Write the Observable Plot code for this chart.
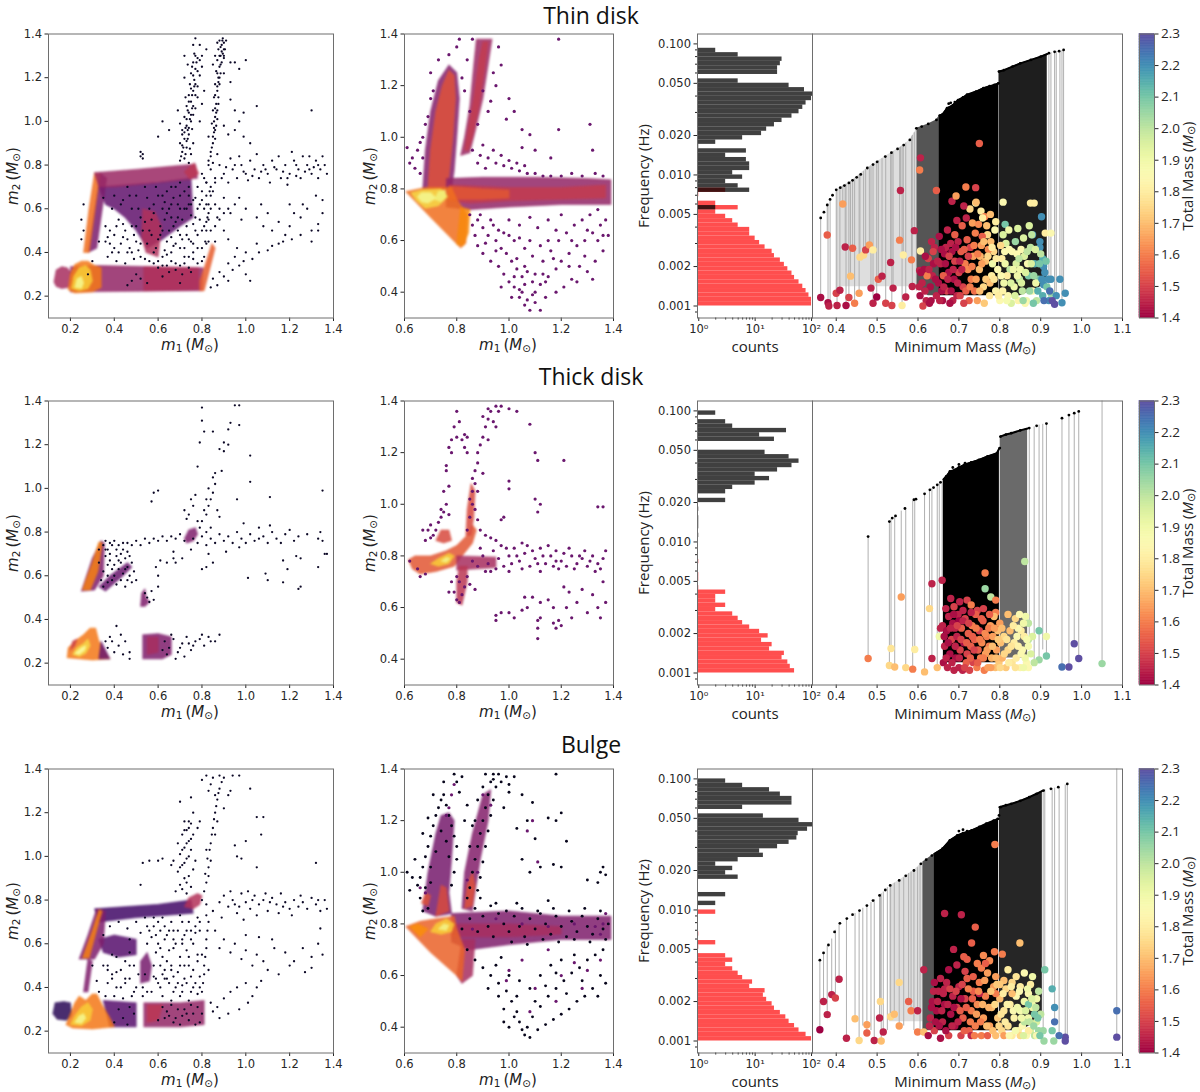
<!DOCTYPE html>
<html><head><meta charset="utf-8">
<script src="https://cdn.jsdelivr.net/npm/d3@7"></script>
<script src="https://cdn.jsdelivr.net/npm/@observablehq/plot@0.6"></script>
<style>
body{margin:0;background:#fff;}
#root{position:relative;width:1200px;height:1092px;overflow:hidden;background:#fff;}
.lab{position:absolute;white-space:nowrap;transform:translate(-50%,-50%);font-size:15px;color:#222;line-height:1;}
.mm{font-family:"DejaVu Sans";}
.os{font-family:"Open Sans";}
.rot{transform:translate(-50%,-50%) rotate(-90deg);}
.title{position:absolute;font-family:"Open Sans";font-size:23px;line-height:1;transform:translate(-50%,0);color:#111;white-space:nowrap;}
sub{font-size:70%;vertical-align:-0.25em;line-height:0;}
</style></head><body><div id="root"></div><script>
// ---------------- data ----------------
const titles = ["Thin disk", "Thick disk", "Bulge"];
const scatterTicksA = [0.2,0.4,0.6,0.8,1.0,1.2,1.4];
const scatterTicksBx = [0.6,0.8,1.0,1.2,1.4];
const scatterTicksBy = [0.4,0.6,0.8,1.0,1.2,1.4];
const massTicks = [0.4,0.5,0.6,0.7,0.8,0.9,1.0,1.1];
const freqTicks = [0.001,0.002,0.005,0.01,0.02,0.05,0.1];
const freqMinor = [0.0009,0.003,0.004,0.006,0.007,0.008,0.009,0.03,0.04,0.06,0.07,0.08,0.09];
const countTicks = [1,10,100];
const countMinor = [2,3,4,5,6,7,8,9,20,30,40,50,60,70,80,90];
const totalMassTicks = [1.4,1.5,1.6,1.7,1.8,1.9,2.0,2.1,2.2,2.3];
const histLogStart = -3, histLogStep = 1/30;

// ---- Thin disk: m1-m2 density regions [density, polygon] and sparse points
const thinA_polys = [
 [0.28,[[0.33,0.70],[0.6,0.72],[0.75,0.74],[0.76,0.56],[0.70,0.52],[0.62,0.46],[0.55,0.42],[0.5,0.5],[0.45,0.56],[0.4,0.6],[0.36,0.62]]],
 [0.34,[[0.28,0.40],[0.32,0.42],[0.365,0.74],[0.335,0.765]]],
 [0.68,[[0.26,0.40],[0.285,0.40],[0.335,0.76],[0.31,0.765],[0.285,0.6]]],
 [0.42,[[0.31,0.765],[0.5,0.78],[0.77,0.805],[0.78,0.74],[0.6,0.72],[0.4,0.70],[0.33,0.70]]],
 [0.50,[[0.72,0.77],[0.765,0.81],[0.785,0.76],[0.745,0.735]]],
 [0.47,[[0.525,0.47],[0.545,0.40],[0.6,0.38],[0.615,0.52],[0.585,0.585],[0.53,0.6]]],
 [0.40,[[0.2,0.22],[0.8,0.225],[0.805,0.33],[0.33,0.34],[0.2,0.335]]],
 [0.47,[[0.535,0.225],[0.785,0.23],[0.785,0.33],[0.535,0.335]]],
 [0.45,[[0.125,0.265],[0.135,0.32],[0.16,0.335],[0.185,0.33],[0.2,0.31],[0.205,0.26],[0.19,0.24],[0.16,0.235],[0.135,0.245]]],
 [0.64,[[0.79,0.225],[0.81,0.225],[0.86,0.42],[0.845,0.44],[0.82,0.36],[0.79,0.27]]],
 [0.70,[[0.19,0.23],[0.2,0.3],[0.22,0.345],[0.25,0.36],[0.28,0.36],[0.31,0.34],[0.34,0.33],[0.34,0.24],[0.3,0.22],[0.22,0.215]]],
 [0.88,[[0.205,0.235],[0.215,0.29],[0.24,0.33],[0.27,0.34],[0.29,0.32],[0.3,0.27],[0.28,0.235],[0.24,0.225]]],
 [0.98,[[0.22,0.24],[0.23,0.28],[0.25,0.29],[0.26,0.26],[0.25,0.235]]]
];
const thinA_dots = [
 [0.70,0.82],[0.72,0.83],[0.74,0.81],[0.71,0.86],[0.73,0.88],[0.75,0.85],[0.70,0.9],[0.72,0.92],[0.74,0.94],[0.76,0.9],[0.71,0.96],[0.73,0.98],[0.75,1.0],[0.72,1.02],[0.74,1.04],[0.76,1.03],[0.73,1.07],[0.75,1.09],[0.77,1.06],[0.74,1.12],[0.76,1.14],[0.78,1.11],[0.745,1.17],[0.765,1.19],[0.78,1.16],[0.75,1.22],[0.77,1.24],[0.79,1.21],[0.76,1.27],[0.78,1.29],[0.765,1.31],[0.69,1.05],[0.7,0.99],[0.79,1.0],[0.8,1.08],[0.81,1.14],[0.735,1.26],[0.72,1.2],[0.8,1.25],[0.71,0.94],[0.725,0.85],[0.745,0.875],[0.735,0.96],[0.755,0.965],[0.725,1.11],[0.77,1.12],[0.755,1.06],[0.79,1.28],[0.62,1.0],[0.65,0.96],[0.6,0.93],[0.53,0.85],[0.53,0.83],[0.8,1.3],[0.72,1.3],[0.76,1.35],
 [0.705,0.84],[0.715,0.88],[0.735,0.92],[0.725,0.97],[0.745,1.01],[0.735,1.05],[0.755,1.12],[0.765,1.16],[0.755,1.25],[0.775,1.27],
 [0.71,0.89],[0.73,0.91],[0.72,0.95],[0.74,0.97],[0.73,1.01],[0.75,1.03],[0.74,1.09],[0.76,1.07],[0.75,1.15],[0.77,1.17],[0.76,1.21],[0.78,1.23],[0.77,1.3],
 [0.83,0.82],[0.84,0.86],[0.85,0.9],[0.83,0.93],[0.855,0.95],[0.845,0.99],[0.86,1.02],[0.85,1.05],[0.865,1.08],[0.855,1.11],[0.87,1.14],[0.86,1.17],[0.875,1.2],[0.865,1.23],[0.88,1.25],[0.87,1.28],[0.885,1.3],[0.875,1.33],[0.89,1.35],[0.88,1.37],[0.895,1.38],[0.9,1.36],[0.905,1.33],[0.895,1.31],[0.89,1.27],[0.885,1.22],[0.88,1.17],[0.875,1.11],[0.87,1.05],[0.865,0.98],[0.86,0.92],[0.9,1.29],[0.91,1.37],[0.87,1.36],[0.86,1.3],[0.85,1.26],[0.9,1.22],[0.93,1.1],[0.95,1.05],[0.97,1.0],[0.95,0.96],[0.99,0.93],[1.02,0.9],[0.9,0.98],[0.92,0.94],
 [0.845,0.88],[0.855,0.97],[0.865,1.04],[0.86,1.12],[0.875,1.18],[0.87,1.22],[0.88,1.3],[0.885,1.34],[0.893,1.37],[0.9,1.33],
 [0.84,0.84],[0.85,0.93],[0.86,0.96],[0.855,1.0],[0.87,1.01],[0.86,1.06],[0.875,1.08],[0.87,1.16],[0.88,1.2],[0.885,1.26],[0.89,1.32],[0.9,1.3],
 [0.79,1.35],[0.82,1.33],[0.95,1.27],[1.0,1.28],[0.97,1.24],[0.93,1.18],[1.05,1.07],[0.99,1.04],[1.3,1.05],[0.93,1.27],[0.77,1.38],
 [0.8,0.76],[0.82,0.72],[0.84,0.78],[0.86,0.74],[0.88,0.8],[0.9,0.76],[0.92,0.72],[0.94,0.78],[0.96,0.74],[0.98,0.8],[1.0,0.76],[1.02,0.82],[1.04,0.78],[1.06,0.74],[1.08,0.8],[1.1,0.76],[1.12,0.82],[1.14,0.78],[1.16,0.74],[1.18,0.8],[1.2,0.76],[1.22,0.82],[1.24,0.78],[1.26,0.84],[1.28,0.8],[1.3,0.76],[1.32,0.82],[1.34,0.78],[1.36,0.8],[1.37,0.76],[1.15,0.84],[1.05,0.85],[0.97,0.84],[1.25,0.74],[1.33,0.74],[1.11,0.72],[1.19,0.71],[1.29,0.84],[1.21,0.86],[0.93,0.83],[0.87,0.85],[1.01,0.73],[1.27,0.77],[1.23,0.75],[1.17,0.77],[1.13,0.79],[1.07,0.77],[0.99,0.77],[0.91,0.79],[0.85,0.81],[1.35,0.84],[1.31,0.79],
 [0.81,0.74],[0.83,0.8],[0.89,0.74],[0.95,0.8],[1.03,0.75],[1.09,0.78],[1.19,0.74],[1.23,0.8],[1.29,0.78],[1.33,0.8],
 [0.85,0.68],[0.9,0.65],[0.95,0.62],[1.0,0.6],[1.05,0.56],[1.1,0.58],[1.15,0.54],[1.2,0.52],[1.25,0.56],[1.3,0.5],[1.33,0.53],[1.35,0.58],[1.28,0.6],[1.22,0.58],[1.18,0.48],[1.12,0.5],[1.08,0.52],[0.98,0.55],[0.93,0.58],[0.88,0.6],[1.3,0.45],[1.32,0.66],[1.35,0.64],[1.26,0.62],[1.2,0.62],[1.07,0.62],[0.97,0.65],[1.12,0.43],[1.05,0.44],[1.0,0.4],[0.95,0.38],[0.92,0.35],[0.88,0.31],[0.85,0.28],[0.9,0.29],[0.97,0.34],[1.03,0.37],[1.1,0.41],[1.17,0.45],[1.25,0.48],[1.33,0.5],[0.87,0.25],[0.84,0.24],[0.92,0.27],[1.0,0.3],[0.94,0.32],[0.99,0.36],[1.06,0.4],[1.15,0.44],[1.21,0.46],[1.02,0.27],[0.96,0.42],[0.86,0.45],[0.9,0.5],[0.83,0.55],[0.82,0.62],[0.87,0.56],[0.92,0.46],
 [0.36,0.45],[0.38,0.5],[0.4,0.42],[0.42,0.55],[0.44,0.47],[0.46,0.4],[0.48,0.52],[0.5,0.45],[0.37,0.38],[0.41,0.36],[0.45,0.35],[0.49,0.37],[0.43,0.62],[0.47,0.66],[0.51,0.6],[0.55,0.65],[0.59,0.7],[0.63,0.55],[0.65,0.6],[0.67,0.65],[0.69,0.5],[0.71,0.55],[0.73,0.6],[0.75,0.45],[0.77,0.5],[0.79,0.55],[0.81,0.6],[0.83,0.45],[0.64,0.45],[0.66,0.4],[0.68,0.35],[0.7,0.42],[0.72,0.38],[0.74,0.33],[0.76,0.4],[0.78,0.35],[0.62,0.38],[0.6,0.33],[0.65,0.31],[0.71,0.3],[0.56,0.36],[0.52,0.38],[0.39,0.6],[0.35,0.65],[0.8,0.68],[0.77,0.65],[0.74,0.7],[0.7,0.72],[0.66,0.7],[0.62,0.66],[0.58,0.62],[0.82,0.72],[0.84,0.66],[0.8,0.42],[0.73,0.48],[0.67,0.52],[0.61,0.48],[0.69,0.62],[0.75,0.57],[0.63,0.63],[0.57,0.55],[0.33,0.45],[0.3,0.36],[0.28,0.3],[0.26,0.62],[0.25,0.55],[0.26,0.5],[0.25,0.46],[0.52,0.86],[0.52,0.84],
 [0.37,0.47],[0.39,0.4],[0.41,0.52],[0.43,0.44],[0.45,0.5],[0.47,0.42],[0.49,0.48],[0.51,0.41],[0.53,0.5],[0.55,0.44],[0.57,0.48],[0.59,0.42],[0.61,0.52],[0.63,0.41],[0.65,0.5],[0.67,0.43],[0.69,0.56],[0.71,0.46],[0.73,0.52],[0.75,0.62],[0.77,0.56],[0.79,0.62],[0.81,0.52],[0.83,0.58],[0.6,0.36],[0.64,0.34],[0.68,0.32],[0.72,0.35],[0.76,0.37],[0.8,0.36],[0.66,0.62],[0.7,0.66],[0.74,0.66],[0.78,0.7],[0.82,0.66],[0.72,0.6],[0.76,0.53],[0.64,0.58],[0.68,0.54],[0.62,0.6],
 [0.36,0.52],[0.38,0.44],[0.4,0.48],[0.42,0.4],[0.44,0.53],[0.46,0.46],[0.48,0.4],[0.5,0.52],[0.52,0.44],[0.54,0.54],[0.56,0.5],[0.58,0.4],[0.6,0.46],[0.62,0.5],[0.64,0.39],[0.66,0.47],[0.68,0.44],[0.7,0.48],[0.72,0.42],[0.74,0.46],[0.76,0.44],[0.78,0.48],[0.8,0.5],[0.82,0.54],[0.84,0.6],[0.86,0.62],[0.78,0.6],[0.76,0.64],[0.72,0.68],[0.68,0.7],[0.64,0.68],[0.6,0.66],[0.56,0.6],[0.52,0.56],[0.48,0.6],[0.44,0.64],[0.4,0.66],[0.46,0.7],[0.5,0.66],[0.54,0.7],[0.58,0.58],[0.66,0.56],[0.7,0.6],[0.74,0.62],[0.8,0.64],[0.84,0.7],[0.86,0.72],[0.78,0.42],[0.74,0.38],[0.7,0.34],[0.66,0.36],[0.62,0.34],[0.58,0.35],[0.54,0.37],[0.82,0.44],[0.84,0.5],[0.86,0.52],[0.88,0.55],[0.9,0.58],[0.92,0.6],
 [0.81,0.38],[0.815,0.45],[0.82,0.5],[0.825,0.56],[0.83,0.62],[0.835,0.68],[0.48,0.27],[0.5,0.3],[0.46,0.25],[0.52,0.28],[0.55,0.26],[0.62,0.29],[0.7,0.26],[0.75,0.31]
];
const thinB_polys = [
 [0.36,[[0.67,0.80],[0.68,0.95],[0.70,1.10],[0.73,1.22],[0.77,1.28],[0.80,1.25],[0.81,1.15],[0.80,1.00],[0.79,0.87],[0.78,0.80]]],
 [0.60,[[0.69,0.80],[0.70,0.95],[0.72,1.10],[0.745,1.20],[0.77,1.26],[0.79,1.24],[0.795,1.15],[0.785,1.0],[0.77,0.85],[0.76,0.80]]],
 [0.42,[[0.815,0.93],[0.83,1.0],[0.85,1.12],[0.865,1.28],[0.875,1.38],[0.935,1.38],[0.92,1.28],[0.9,1.15],[0.87,1.02],[0.85,0.94]]],
 [0.52,[[0.83,0.95],[0.845,1.04],[0.865,1.15],[0.885,1.3],[0.9,1.37],[0.92,1.37],[0.905,1.25],[0.885,1.12],[0.86,1.0],[0.845,0.95]]],
 [0.40,[[0.76,0.73],[0.76,0.84],[0.9,0.845],[1.1,0.845],[1.3,0.84],[1.39,0.835],[1.39,0.74],[1.2,0.74],[1.0,0.73],[0.85,0.72]]],
 [0.52,[[0.77,0.755],[0.77,0.815],[1.0,0.805],[1.2,0.805],[1.37,0.815],[1.37,0.765],[1.2,0.76],[1.0,0.755],[0.85,0.745]]],
 [0.62,[[0.77,0.76],[0.77,0.81],[0.9,0.8],[1.0,0.795],[1.0,0.765],[0.9,0.76]]],
 [0.68,[[0.605,0.79],[0.68,0.805],[0.78,0.805],[0.80,0.76],[0.84,0.70],[0.835,0.59],[0.815,0.572],[0.70,0.69]]],
 [0.74,[[0.80,0.585],[0.825,0.58],[0.845,0.63],[0.85,0.72],[0.815,0.73]]],
 [0.90,[[0.625,0.785],[0.67,0.797],[0.74,0.8],[0.765,0.77],[0.73,0.735],[0.68,0.725],[0.645,0.755]]],
 [0.98,[[0.65,0.77],[0.665,0.785],[0.70,0.785],[0.72,0.765],[0.69,0.745],[0.665,0.75]]],
 [0.96,[[0.715,0.76],[0.73,0.79],[0.755,0.795],[0.76,0.77],[0.74,0.75]]]
];
const thinB_dots = [
 [0.85,0.7],[0.88,0.68],[0.9,0.65],[0.92,0.62],[0.95,0.6],[0.97,0.57],[0.99,0.55],[1.01,0.52],[1.03,0.49],[1.05,0.46],[1.06,0.43],[1.05,0.4],[1.04,0.38],[1.07,0.37],[1.1,0.4],[1.12,0.43],[1.15,0.46],[1.18,0.49],[1.2,0.52],[1.23,0.55],[1.26,0.58],[1.29,0.6],[1.32,0.63],[1.35,0.66],[1.37,0.68],[1.36,0.56],[1.33,0.52],[1.3,0.48],[1.27,0.5],[1.24,0.45],[1.21,0.42],[1.18,0.4],[1.14,0.38],[1.1,0.36],[1.08,0.33],[1.12,0.33],[0.93,0.52],[0.96,0.5],[0.98,0.47],[1.0,0.44],[1.02,0.42],[0.9,0.55],[0.88,0.58],[0.87,0.62],[0.94,0.66],[0.98,0.63],[1.02,0.6],[1.06,0.57],[1.09,0.54],[1.13,0.52],[1.16,0.56],[1.19,0.6],[1.22,0.63],[1.25,0.66],[1.28,0.68],[1.31,0.7],[1.34,0.72],[1.11,0.65],[1.15,0.68],[1.2,0.7],[1.0,0.68],[1.04,0.66],[1.08,0.69],[0.95,0.56],[1.07,0.48],[1.13,0.47],[1.17,0.53],[1.23,0.5],[1.29,0.54],[1.34,0.6],[1.38,0.62],[1.03,0.53],[0.97,0.42],[1.01,0.38],[1.09,0.44],[1.15,0.6],[1.26,0.44],[1.32,0.45],[0.86,0.66],[0.91,0.59],
 [0.89,0.7],[0.93,0.68],[0.96,0.64],[1.0,0.62],[1.04,0.61],[1.08,0.6],[1.12,0.58],[1.18,0.64],[1.24,0.6],[1.3,0.64],[1.36,0.62],[1.02,0.46],[1.06,0.5],[1.1,0.47],[1.14,0.44],[1.04,0.41],[1.06,0.35],[1.09,0.39],
 [0.86,0.95],[0.89,0.93],[0.92,0.92],[0.95,0.9],[0.98,0.89],[1.01,0.88],[1.04,0.87],[1.07,0.86],[1.1,0.86],[1.13,0.85],[1.16,0.85],[1.2,0.85],[0.9,0.97],[0.94,0.95],[0.97,0.93],[1.0,0.91],[1.03,0.9],[1.06,0.89],[0.88,0.9],[0.91,0.88],[1.24,0.86],[1.28,0.85],[1.33,0.86],[1.36,0.85],
 [0.85,1.1],[0.88,1.05],[0.92,1.1],[0.95,1.2],[0.97,1.28],[1.0,1.15],[1.02,1.1],[1.05,1.03],[1.08,1.01],[1.19,1.03],[1.31,1.05],[1.32,0.95],[1.19,1.38],[0.94,1.25],[0.96,1.35],[0.81,1.38],[0.8,1.35],[0.77,1.32],[0.73,1.3],[0.7,1.25],[0.84,1.3],[0.82,1.23],[0.83,1.18],[0.86,1.38],[0.9,1.18],[0.93,1.14],[0.99,1.07],[1.05,0.96],[1.1,0.95],[1.16,0.92],
 [0.61,0.96],[0.62,0.9],[0.63,0.92],[0.65,0.95],[0.66,0.98],[0.67,1.0],[0.68,1.05],[0.69,1.08],[0.7,1.15],[0.71,1.18],[0.64,0.88],[0.66,0.86],[0.67,0.92]
];
// Thin disk histogram counts per log-frequency bin (bottom to top)
const thinHistRed = [100,100,90,80,70,60,50,45,38,33,28,22,20,15,12,10,8,8,5,4,3,2,5,2,0,1,3,0,0,0,0,0,0,0,0,0,0,0,0,0,0,0,0,0,0,0,0,0,0,0,0,0,0,0,0,0,0,0,0,0];
const thinHistDark = [0,0,0,0,0,0,0,0,0,0,0,0,0,0,0,0,0,0,0,0,0,0,2,0,0,0,8,5,3,6,4,8,8,7,3,7,1,2,6,13,16,22,30,45,60,70,80,100,105,75,40,5,0,25,25,28,30,5,2,0];
// Thin disk: minimum mass vs frequency
const thinEnvelope = [[0.362,0.0047],[0.37,0.0052],[0.378,0.0059],[0.385,0.0065],[0.391,0.007],[0.4,0.0077],[0.41,0.008],[0.42,0.0083],[0.431,0.0087],[0.44,0.0091],[0.45,0.0096],[0.46,0.0101],[0.476,0.0113],[0.49,0.012],[0.5,0.0126],[0.52,0.0138],[0.535,0.0148],[0.55,0.0158],[0.565,0.0169],[0.58,0.0185],[0.596,0.0227],[0.609,0.0234],[0.625,0.0245],[0.645,0.0263],[0.66,0.029],[0.671,0.0323],[0.685,0.034],[0.698,0.0373],[0.71,0.039],[0.72,0.041],[0.742,0.0433],[0.76,0.046],[0.775,0.0475],[0.787,0.0487],[0.796,0.05],[0.798,0.0615],[0.81,0.063],[0.831,0.0671],[0.85,0.071],[0.876,0.0755],[0.9,0.08],[0.92,0.0849],[0.934,0.087],[0.945,0.088],[0.956,0.09],[0.675,0.035],[0.68,0.0355],[0.69,0.036]];
const thinStems = [[0.362,0.0047,0.00116],[0.378,0.0059,0.00348],[0.38,0.006,0.00106],[0.385,0.0065,0.001],[0.4,0.0077,0.00125],[0.402,0.0077,0.00101],[0.409,0.008,0.00132],[0.416,0.0082,0.006],[0.422,0.0084,0.00282],[0.424,0.0085,0.00101],[0.431,0.0087,0.00116],[0.435,0.0089,0.00169],[0.44,0.0091,0.00276],[0.445,0.0093,0.00105],[0.456,0.0099,0.00125],[0.458,0.01,0.00236],[0.467,0.0106,0.00245],[0.472,0.011,0.00268],[0.481,0.0115,0.00292],[0.485,0.0117,0.00137],[0.49,0.012,0.00105],[0.499,0.0125,0.00117],[0.503,0.0128,0.0016],[0.512,0.0133,0.00169],[0.521,0.0139,0.00105],[0.533,0.0147,0.00215],[0.536,0.0149,0.00101],[0.539,0.0151,0.00137],[0.555,0.0161,0.00318],[0.557,0.0163,0.0076],[0.561,0.0166,0.00101],[0.564,0.0168,0.00245],[0.57,0.0175,0.00117],[0.584,0.0195,0.00225],[0.586,0.02,0.00141],[0.591,0.021,0.00376],[0.596,0.0227,0.0013],[0.92,0.0849,0.0011],[0.925,0.086,0.0016],[0.934,0.087,0.00103],[0.938,0.0875,0.0012],[0.947,0.088,0.0016],[0.952,0.089,0.00106],[0.956,0.09,0.00125]];
const thinLight = [[0.405,0.0079,0.0014],[0.431,0.0087,0.0014],[0.476,0.0113,0.0014],[0.52,0.0138,0.0014],[0.565,0.0169,0.0014],[0.58,0.0185,0.0014],[0.598,0.0227,0.0014]];
const thinGrey = [[0.598,0.0228,0.0014],[0.609,0.0234,0.0013],[0.625,0.0245,0.0012],[0.645,0.0263,0.0012],[0.653,0.0285,0.0012]];
const thinCore = [[0.652,0.0285,0.0012],[0.66,0.029,0.0012],[0.671,0.0323,0.0012],[0.685,0.034,0.0012],[0.698,0.0373,0.0012],[0.71,0.039,0.0012],[0.72,0.041,0.0012],[0.742,0.0433,0.0012],[0.76,0.046,0.0012],[0.775,0.0475,0.0012],[0.787,0.0487,0.0012],[0.797,0.05,0.0012]];
const thinShade = [[0.798,0.0615,0.0012],[0.81,0.063,0.0012],[0.831,0.0671,0.0012],[0.85,0.071,0.0012],[0.876,0.0755,0.0013],[0.9,0.08,0.0014],[0.916,0.0838,0.0016]];
const thinMassDots = [
 [0.362,0.00116,1.42],[0.378,0.00348,1.55],[0.38,0.00106,1.42],[0.382,0.001,1.45],[0.4,0.00125,1.5],[0.402,0.00101,1.45],[0.416,0.006,1.65],[0.409,0.00132,1.45],[0.422,0.00282,1.45],[0.424,0.00101,1.42],[0.44,0.00276,1.55],[0.435,0.00169,1.7],[0.431,0.00116,1.5],[0.445,0.00105,1.6],[0.456,0.00125,1.65],[0.458,0.00236,1.75],[0.467,0.00245,1.75],[0.472,0.00268,1.5],[0.481,0.00292,1.65],[0.49,0.00268,1.8],[0.485,0.00137,1.45],[0.49,0.00105,1.45],[0.499,0.00117,1.4],[0.503,0.0016,1.55],[0.512,0.00169,1.45],[0.521,0.00105,1.5],[0.533,0.00215,1.45],[0.536,0.00101,1.5],[0.539,0.00137,1.45],[0.555,0.00318,1.6],[0.557,0.0076,1.45],[0.564,0.00245,1.8],[0.561,0.00101,1.8],[0.57,0.00117,1.45],[0.584,0.00225,1.6],[0.586,0.00141,1.45],[0.591,0.00376,1.45],[0.606,0.0135,1.45],[0.604,0.0109,1.6],[0.606,0.00263,1.8],[0.604,0.00187,1.45],[0.645,0.0076,1.55],[0.683,0.0063,1.45],[0.693,0.0069,1.65],[0.717,0.0081,1.6],[0.741,0.008,1.5],[0.75,0.0174,1.55],[0.741,0.0061,1.8],[0.754,0.0053,1.8],[0.763,0.0048,1.6],[0.777,0.005,1.7],[0.808,0.0062,1.85],[0.813,0.0042,2.1],[0.844,0.0039,1.95],[0.875,0.0061,1.8],[0.884,0.0061,1.8],[0.902,0.0048,2.2],[0.88,0.0035,2.2],[0.898,0.0028,2.2],[0.905,0.0023,2.15],[0.907,0.002,2.2],[0.925,0.0016,2.2],[0.947,0.0016,2.2],[0.907,0.00145,2.2],[0.925,0.00125,2.05],[0.934,0.00103,2.3],[0.938,0.0012,2.2],[0.952,0.00106,2.2],[0.96,0.00125,2.2],[0.911,0.0036,1.8],[0.925,0.0036,1.85],
 [0.605,0.0012,1.42],[0.61,0.0015,1.45],[0.615,0.0019,1.42],[0.62,0.0011,1.45],[0.625,0.0023,1.5],[0.63,0.0014,1.42],[0.635,0.0017,1.45],[0.64,0.0028,1.45],[0.612,0.001,1.5],[0.628,0.00105,1.42],[0.638,0.0021,1.42],[0.645,0.0012,1.45],[0.622,0.0017,1.6],[0.633,0.0031,1.45],
 [0.65,0.0015,1.42],[0.655,0.0021,1.45],[0.66,0.0011,1.42],[0.665,0.0025,1.42],[0.67,0.0013,1.5],[0.675,0.0018,1.42],[0.68,0.003,1.45],[0.685,0.0011,1.45],[0.69,0.0022,1.5],[0.652,0.0034,1.42],[0.662,0.0017,1.55],[0.672,0.0038,1.45],[0.678,0.00105,1.42],[0.688,0.0016,1.42],[0.668,0.0028,1.45],[0.658,0.0013,1.42],[0.683,0.0026,1.42],[0.695,0.0045,1.45],[0.69,0.0035,1.55],
 [0.695,0.0012,1.45],[0.7,0.0018,1.5],[0.705,0.0026,1.55],[0.71,0.0014,1.5],[0.715,0.0021,1.6],[0.72,0.0032,1.55],[0.725,0.0011,1.55],[0.73,0.0016,1.6],[0.735,0.0024,1.65],[0.74,0.0036,1.6],[0.698,0.0031,1.45],[0.708,0.0041,1.55],[0.718,0.0047,1.45],[0.728,0.0028,1.5],[0.733,0.0043,1.65],[0.712,0.00105,1.5],[0.702,0.0022,1.45],[0.722,0.0019,1.62],[0.738,0.0013,1.58],[0.727,0.0055,1.75],[0.712,0.0058,1.45],[0.742,0.0062,1.7],
 [0.745,0.0011,1.65],[0.75,0.0019,1.7],[0.755,0.0029,1.65],[0.76,0.0014,1.75],[0.765,0.0022,1.7],[0.77,0.0035,1.75],[0.775,0.0012,1.78],[0.78,0.0017,1.8],[0.785,0.0026,1.75],[0.79,0.0013,1.82],[0.748,0.0042,1.62],[0.758,0.0047,1.8],[0.768,0.0041,1.7],[0.778,0.0031,1.7],[0.788,0.0038,1.85],[0.752,0.0024,1.68],[0.762,0.00105,1.72],[0.772,0.0027,1.62],[0.782,0.0021,1.9],[0.795,0.0019,1.85],[0.757,0.0034,1.55],[0.79,0.0044,1.8],
 [0.8,0.0011,1.85],[0.805,0.0023,1.8],[0.81,0.0015,1.9],[0.815,0.003,1.95],[0.82,0.0012,1.85],[0.825,0.0019,2.0],[0.83,0.0026,1.85],[0.835,0.0014,1.9],[0.84,0.0021,1.95],[0.845,0.0011,1.82],[0.808,0.0035,1.95],[0.818,0.0017,1.8],[0.828,0.00105,1.95],[0.838,0.0031,2.05],[0.848,0.0016,2.0],[0.812,0.0026,1.85],[0.822,0.0038,1.9],[0.842,0.0025,1.85],[0.802,0.0029,1.75],
 [0.85,0.0019,1.9],[0.855,0.0013,2.0],[0.86,0.0024,1.95],[0.865,0.0011,1.9],[0.87,0.0017,2.1],[0.875,0.0028,2.0],[0.88,0.0013,1.85],[0.885,0.0021,2.15],[0.89,0.0011,2.0],[0.895,0.0016,2.1],[0.9,0.0025,2.0],[0.905,0.0012,2.15],[0.91,0.0018,2.2],[0.915,0.0014,2.1],[0.92,0.0011,2.2],[0.858,0.0033,1.95],[0.868,0.0021,1.85],[0.878,0.0035,2.0],[0.888,0.0015,1.9],[0.898,0.0031,2.2],[0.862,0.00105,1.85],[0.882,0.00105,2.1],[0.852,0.0027,1.85],[0.872,0.0041,1.95],
 [0.603,0.0014,1.45],[0.607,0.0018,1.42],[0.617,0.0013,1.45],[0.618,0.0024,1.42],[0.627,0.0019,1.45],[0.632,0.0011,1.42],[0.637,0.0026,1.5],[0.643,0.0016,1.42],[0.648,0.0022,1.45],[0.653,0.0011,1.45],[0.657,0.0027,1.42],[0.663,0.0014,1.45],[0.667,0.0021,1.42],[0.673,0.0016,1.45],[0.676,0.0024,1.5],[0.681,0.0013,1.42],[0.686,0.0019,1.45],[0.692,0.0028,1.42],[0.697,0.0015,1.45],[0.703,0.0012,1.5],[0.707,0.0019,1.45],[0.713,0.0027,1.55],[0.717,0.0013,1.55],[0.723,0.0024,1.5],[0.727,0.0014,1.6],[0.732,0.002,1.6],[0.737,0.0029,1.6],[0.742,0.0016,1.65],[0.746,0.0025,1.6],[0.751,0.0013,1.7],[0.756,0.0021,1.65],[0.761,0.0031,1.7],[0.766,0.0016,1.72],[0.771,0.0024,1.75],[0.776,0.0015,1.7],[0.781,0.0028,1.8],[0.786,0.0016,1.78],[0.791,0.0023,1.8],[0.797,0.0012,1.8],[0.803,0.0017,1.85],[0.807,0.0013,1.82],[0.813,0.0021,1.9],[0.817,0.0011,1.88],[0.823,0.0027,1.85],[0.827,0.0015,1.95],[0.833,0.0019,1.9],[0.837,0.0012,1.95],[0.843,0.0017,1.9],[0.847,0.0023,2.0],[0.853,0.0015,1.95],[0.857,0.0011,2.05],[0.863,0.0018,1.95],[0.867,0.0026,2.0],[0.873,0.0013,2.05],[0.877,0.0021,1.95],[0.883,0.0017,2.05],[0.887,0.0027,1.95],[0.893,0.0013,2.15],[0.897,0.0021,2.1],[0.903,0.0016,2.2],[0.908,0.0011,2.25],[0.913,0.0022,2.1],[0.918,0.0016,2.2],[0.922,0.0013,2.25],[0.928,0.0011,2.3]
];

// ---- Thick disk
const thickA_polys = [
 [0.35,[[0.25,0.53],[0.31,0.535],[0.35,0.6],[0.355,0.75],[0.34,0.76],[0.3,0.68]]],
 [0.72,[[0.255,0.535],[0.29,0.535],[0.325,0.62],[0.345,0.75],[0.33,0.755],[0.3,0.66],[0.27,0.58]]],
 [0.30,[[0.33,0.55],[0.36,0.53],[0.44,0.6],[0.48,0.64],[0.46,0.66],[0.38,0.6]]],
 [0.35,[[0.52,0.46],[0.525,0.52],[0.54,0.54],[0.545,0.5],[0.56,0.48],[0.54,0.46]]],
 [0.35,[[0.72,0.77],[0.74,0.81],[0.77,0.82],[0.78,0.79],[0.76,0.76],[0.73,0.75]]],
 [0.35,[[0.53,0.22],[0.53,0.33],[0.6,0.335],[0.66,0.32],[0.66,0.24],[0.62,0.22]]],
 [0.45,[[0.55,0.24],[0.55,0.32],[0.6,0.32],[0.6,0.25]]],
 [0.70,[[0.185,0.225],[0.19,0.27],[0.22,0.3],[0.26,0.33],[0.29,0.36],[0.315,0.36],[0.33,0.3],[0.36,0.25],[0.38,0.22],[0.3,0.215]]],
 [0.30,[[0.33,0.22],[0.38,0.22],[0.36,0.26],[0.34,0.3]]],
 [0.90,[[0.21,0.24],[0.23,0.27],[0.26,0.29],[0.28,0.31],[0.29,0.28],[0.27,0.245],[0.24,0.23]]],
 [1.00,[[0.22,0.245],[0.25,0.27],[0.27,0.28],[0.265,0.26],[0.24,0.24]]],
 [0.55,[[0.2,0.26],[0.21,0.3],[0.23,0.31],[0.22,0.28]]]
];
const thickA_dots = [
 [0.35,0.74],[0.37,0.72],[0.39,0.74],[0.41,0.72],[0.43,0.7],[0.45,0.68],[0.36,0.69],[0.38,0.67],[0.4,0.65],[0.42,0.63],[0.44,0.61],[0.46,0.64],[0.47,0.6],[0.35,0.62],[0.37,0.6],[0.39,0.58],[0.41,0.56],[0.43,0.58],[0.45,0.55],[0.48,0.57],[0.36,0.76],[0.4,0.76],[0.44,0.75],[0.42,0.67],[0.38,0.7],[0.46,0.71],[0.48,0.66],[0.34,0.58],[0.35,0.55],[0.37,0.57],[0.33,0.66],[0.33,0.72],[0.49,0.62],[0.5,0.58],[0.46,0.58],[0.4,0.6],
 [0.36,0.72],[0.38,0.75],[0.42,0.74],[0.44,0.72],[0.37,0.65],[0.39,0.63],[0.41,0.69],[0.43,0.66],[0.45,0.63],[0.47,0.69],
 [0.46,0.75],[0.48,0.74],[0.5,0.76],[0.52,0.74],[0.54,0.77],[0.56,0.75],[0.58,0.77],[0.6,0.76],[0.62,0.78],[0.64,0.76],[0.66,0.78],[0.68,0.77],[0.7,0.79],[0.72,0.76],[0.76,0.77],[0.78,0.75],[0.8,0.78],[0.82,0.74],[0.84,0.77],[0.86,0.75],[0.88,0.79],[0.9,0.76],[0.92,0.78],[0.94,0.75],[0.96,0.8],[0.98,0.77],[1.0,0.75],[1.02,0.79],[1.04,0.76],[1.06,0.82],[1.08,0.78],[1.1,0.75],[1.12,0.8],[1.14,0.77],[1.16,0.75],[1.18,0.79],[1.2,0.81],[1.22,0.76],[1.24,0.78],[1.28,0.79],[1.33,0.77],[1.34,0.8],[1.36,0.7],[1.35,0.76],[1.11,0.83],[1.06,0.77],[0.97,0.73],[0.91,0.71],[0.67,0.71],[0.64,0.66],[0.61,0.67],[0.59,0.64],[0.67,0.68],
 [0.72,0.9],[0.74,0.88],[0.73,0.86],[0.76,0.92],[0.75,0.95],[0.79,0.82],[0.8,0.85],[0.82,0.88],[0.83,0.92],[0.84,0.95],[0.85,0.98],[0.86,1.02],[0.86,1.07],[0.85,1.05],[0.83,1.0],[0.81,0.9],[0.78,0.85],[0.87,0.9],[0.88,0.87],[0.82,0.8],[0.84,0.82],[0.77,0.97],[0.82,0.95],
 [0.8,1.37],[0.8,1.31],[0.79,1.21],[0.81,1.26],[0.85,1.26],[0.88,1.18],[0.9,1.21],[0.9,1.17],[0.92,1.27],[0.93,1.3],[0.95,1.38],[0.97,1.38],[0.97,1.29],[0.92,1.2],[1.02,1.15],[1.02,1.03],[0.89,1.08],[0.96,0.95],[0.78,1.1],[0.57,0.94],[0.58,0.98],[0.6,0.99],[1.35,0.99],[1.11,0.96],[0.99,0.84],
 [1.01,0.59],[1.09,0.61],[1.1,0.58],[1.17,0.57],[1.19,0.63],[1.17,0.67],[1.23,0.69],[1.25,0.55],[1.24,0.54],[1.33,0.64],[1.37,0.7],[1.25,0.68],[0.85,0.66],[0.8,0.63],[0.82,0.64],[0.83,0.7],[0.75,0.72],[0.71,0.68],[0.68,0.66],
 [0.54,0.52],[0.55,0.5],[0.57,0.53],[0.56,0.48],[0.58,0.49],[0.6,0.55],[0.6,0.6],
 [0.63,0.3],[0.65,0.27],[0.67,0.31],[0.69,0.25],[0.71,0.29],[0.73,0.32],[0.75,0.26],[0.77,0.3],[0.79,0.31],[0.81,0.28],[0.83,0.32],[0.86,0.3],[0.88,0.33],[0.64,0.24],[0.68,0.22],[0.72,0.23],[0.7,0.27],[0.66,0.33],[0.74,0.29],[0.62,0.26],[0.76,0.28],[0.8,0.33],[0.84,0.3],
 [0.37,0.27],[0.38,0.32],[0.4,0.25],[0.41,0.37],[0.42,0.28],[0.44,0.24],[0.45,0.3],[0.47,0.25],[0.47,0.22],[0.39,0.3],[0.43,0.33],[0.36,0.3]
];
const thickB_polys = [
 [0.62,[[0.615,0.785],[0.64,0.8],[0.7,0.8],[0.76,0.82],[0.8,0.84],[0.84,0.88],[0.86,0.92],[0.875,0.9],[0.86,0.85],[0.82,0.8],[0.79,0.76],[0.72,0.74],[0.66,0.73],[0.63,0.75]]],
 [0.45,[[0.8,0.745],[0.8,0.8],[0.95,0.795],[0.95,0.755]]],
 [0.50,[[0.8,0.62],[0.82,0.61],[0.84,0.7],[0.84,0.76],[0.81,0.76],[0.8,0.7]]],
 [0.58,[[0.72,0.86],[0.74,0.9],[0.77,0.9],[0.78,0.86],[0.75,0.85]]],
 [0.58,[[0.835,0.88],[0.84,0.98],[0.855,1.08],[0.87,1.05],[0.865,0.95],[0.855,0.88]]],
 [0.88,[[0.7,0.77],[0.73,0.79],[0.77,0.81],[0.79,0.8],[0.77,0.77],[0.73,0.76]]],
 [0.97,[[0.74,0.78],[0.76,0.795],[0.775,0.79],[0.76,0.775]]]
];
const thickB_dots = [
 [0.8,1.36],[0.81,1.32],[0.79,1.3],[0.8,1.26],[0.78,1.25],[0.77,1.22],[0.78,1.2],[0.76,1.15],[0.76,1.13],[0.77,1.07],[0.75,1.05],[0.76,1.0],[0.75,0.97],[0.74,0.95],[0.73,0.93],[0.72,0.9],[0.71,0.88],[0.7,0.92],[0.69,0.9],[0.68,0.86],[0.67,0.9],[0.7,0.87],[0.74,0.98],[0.77,0.96],[0.82,1.25],[0.83,1.27],[0.84,1.26],[0.83,1.22],[0.84,1.2],
 [0.84,0.9],[0.85,0.95],[0.86,1.0],[0.86,1.05],[0.87,1.08],[0.86,1.1],[0.87,1.13],[0.88,1.16],[0.88,1.2],[0.89,1.23],[0.9,1.26],[0.91,1.3],[0.92,1.33],[0.93,1.36],[0.95,1.38],[0.97,1.38],[0.96,1.36],[0.94,1.32],[0.9,1.34],[0.92,1.37],[0.85,1.02],[0.88,1.05],[0.87,0.98],[0.88,0.94],[0.89,0.9],[0.91,0.88],[0.93,0.87],[0.95,0.86],[0.9,1.12],[0.92,1.25],[0.95,1.3],[1.0,1.37],[1.03,1.36],
 [0.86,0.78],[0.88,0.76],[0.9,0.8],[0.92,0.77],[0.94,0.82],[0.96,0.79],[0.98,0.76],[1.0,0.8],[1.02,0.83],[1.04,0.78],[1.06,0.81],[1.08,0.76],[1.1,0.79],[1.12,0.83],[1.14,0.77],[1.16,0.8],[1.18,0.82],[1.2,0.78],[1.22,0.76],[1.24,0.8],[1.26,0.77],[1.28,0.79],[1.3,0.76],[1.32,0.8],[1.34,0.77],[1.36,0.79],[1.37,0.82],[1.01,0.77],[1.05,0.75],[1.09,0.82],[1.13,0.8],[1.17,0.76],[1.21,0.81],[1.25,0.75],[1.29,0.82],[1.33,0.74],[0.95,0.75],[0.99,0.83],[1.03,0.8],[1.07,0.84],[1.11,0.77],[1.15,0.84],[1.19,0.75],[1.23,0.83],[1.27,0.8],[1.31,0.78],[1.35,0.75],[0.93,0.74],[0.97,0.84],[0.89,0.83],[0.91,0.74],[1.05,0.85],[1.0,0.74],[1.12,0.74],[1.18,0.78],
 [0.95,0.57],[0.97,0.58],[1.0,0.58],[1.02,0.56],[1.05,0.59],[1.07,0.6],[1.09,0.64],[1.11,0.52],[1.11,0.55],[1.12,0.56],[1.15,0.63],[1.17,0.54],[1.18,0.52],[1.19,0.55],[1.2,0.53],[1.22,0.6],[1.23,0.66],[1.24,0.56],[1.26,0.62],[1.3,0.58],[1.32,0.65],[1.34,0.6],[1.35,0.56],[1.36,0.7],[1.37,0.62],[1.12,0.62],[1.17,0.6],[1.21,0.68],[1.28,0.67],[1.06,0.64],[1.11,0.48],[0.95,0.55],
 [1.08,1.31],[1.1,1.2],[1.21,1.17],[1.11,1.17],[1.1,1.02],[1.12,1.0],[1.11,0.97],[1.0,1.09],[0.97,0.94],[1.34,0.99],[1.36,0.99],[1.0,1.06],[0.98,0.95],
 [0.79,0.66],[0.8,0.63],[0.81,0.62],[0.82,0.65],[0.83,0.68],[0.81,0.7],[0.84,0.72],[0.78,0.7],[0.8,0.72],[0.77,0.66],[0.85,0.69],[0.87,0.67],
 [0.66,0.72],[0.68,0.73],[0.65,0.75],[0.62,0.78]
];
const thickHistRed = [50,42,38,30,33,18,20,13,17,12,8,6,5,4,2,3,2,2,3,1,0,1,1,0,0,1,0,0,0,0,0,0,0,0,0,0,0,0,0,0,0,0,0,0,0,0,0,0,0,0,0,0,0,0,0,0,0,0,0,0];
const thickHistDark = [0,0,0,0,0,0,0,0,0,0,0,0,0,0,0,0,0,0,0,0,0,0,0,0,0,0,0,0,0,0,0,1,0,1,1,1,0,1,0,3,0,3,4,10,18,10,25,45,60,40,15,0,0,22,12,36,4,3,0,2];
const thickEnvelope = [[0.478,0.011],[0.53,0.0143],[0.537,0.0152],[0.545,0.0158],[0.568,0.018],[0.59,0.021],[0.595,0.0212],[0.616,0.0233],[0.629,0.025],[0.638,0.026],[0.647,0.0273],[0.655,0.0285],[0.669,0.0316],[0.678,0.0345],[0.69,0.0355],[0.7,0.037],[0.713,0.0388],[0.73,0.0405],[0.749,0.0423],[0.77,0.045],[0.793,0.0476],[0.8,0.052],[0.802,0.0637],[0.815,0.066],[0.828,0.0676],[0.85,0.071],[0.872,0.074],[0.89,0.077],[0.914,0.08],[0.952,0.088],[0.969,0.093],[0.982,0.096],[0.993,0.099],[0.685,0.037],[0.7,0.039],[0.715,0.04]];
const thickStems = [[0.478,0.011,0.00129],[0.53,0.0143,0.00114],[0.534,0.015,0.00154],[0.543,0.0156,0.00111],[0.559,0.0172,0.0038],[0.57,0.0182,0.0011],[0.587,0.0205,0.00107],[0.592,0.021,0.00151],[0.616,0.0233,0.00102],[0.628,0.025,0.0031],[0.634,0.0255,0.00129],[0.647,0.0273,0.0011],[0.652,0.028,0.0019],[0.659,0.029,0.0051],[0.872,0.074,0.0018],[0.884,0.0755,0.0012],[0.896,0.078,0.00126],[0.905,0.079,0.0015],[0.914,0.08,0.00135],[0.952,0.088,0.00111],[0.969,0.093,0.00111],[0.982,0.096,0.00167],[0.993,0.099,0.00129],[1.05,0.125,0.00118]];
const thickLight = [];
const thickGrey = [];
const thickCore = [[0.662,0.03,0.0012],[0.669,0.0316,0.0012],[0.678,0.0345,0.0012],[0.69,0.0355,0.0012],[0.7,0.037,0.0012],[0.713,0.0388,0.0012],[0.73,0.0405,0.0012],[0.749,0.0423,0.0012],[0.77,0.045,0.0012],[0.793,0.0476,0.0012],[0.799,0.052,0.0012]];
const thickShade = [[0.801,0.0637,0.0013],[0.815,0.066,0.0013],[0.828,0.0676,0.0013],[0.85,0.071,0.0013],[0.868,0.0735,0.0013]];
const thickMassDots = [
 [0.478,0.00129,1.6],[0.53,0.00114,1.75],[0.534,0.00154,1.78],[0.543,0.00111,1.7],[0.559,0.0038,1.65],[0.57,0.0011,1.75],[0.587,0.00107,1.6],[0.592,0.00151,1.8],[0.616,0.00102,1.7],[0.628,0.0031,1.75],[0.634,0.0048,1.45],[0.634,0.00129,1.45],[0.647,0.0011,1.7],[0.652,0.0019,1.9],[0.659,0.0051,1.45],[0.655,0.0022,1.45],[0.66,0.0023,1.45],
 [0.764,0.0058,1.6],[0.764,0.0044,2.05],[0.778,0.0038,2.0],[0.861,0.0071,2.0],[0.896,0.0021,2.1],[0.914,0.0019,1.9],[0.914,0.00135,2.1],[0.896,0.00126,2.05],[0.884,0.0012,2.0],[0.952,0.00111,2.25],[0.969,0.00111,2.3],[0.982,0.00167,2.3],[0.993,0.00129,2.3],[1.05,0.00118,2.05],[0.863,0.0027,1.9],[0.87,0.0024,2.0],[0.68,0.0037,1.45],[0.688,0.0032,1.5],[0.702,0.0035,1.45],[0.71,0.003,1.45],[0.72,0.0036,1.5],[0.73,0.0033,1.6],[0.745,0.003,1.5],[0.79,0.0036,1.6],[0.79,0.0029,1.6],[0.8,0.0024,1.65],[0.82,0.0028,1.7],[0.838,0.0026,1.75],[0.852,0.0021,1.8],[0.87,0.0018,2.0],[0.88,0.0019,1.95],
 [0.662,0.0012,1.42],[0.665,0.0016,1.45],[0.67,0.0021,1.42],[0.672,0.0011,1.45],[0.675,0.0027,1.45],[0.678,0.0014,1.42],[0.682,0.0018,1.5],[0.685,0.0024,1.42],[0.688,0.00105,1.45],[0.692,0.0013,1.42],[0.695,0.0019,1.45],[0.698,0.0028,1.45],[0.7,0.0011,1.45],[0.703,0.0015,1.5],[0.706,0.0022,1.55],[0.709,0.00105,1.45],[0.712,0.0017,1.42],[0.715,0.0026,1.5],[0.718,0.0012,1.55],[0.72,0.0014,1.5],[0.723,0.002,1.55],[0.726,0.00105,1.5],[0.729,0.0016,1.55],[0.732,0.0023,1.6],[0.735,0.0012,1.5],[0.738,0.0018,1.55],[0.741,0.0028,1.55],[0.744,0.0011,1.6],[0.747,0.0015,1.55],[0.75,0.0021,1.5],[0.753,0.0013,1.6],[0.756,0.0017,1.62],[0.759,0.0025,1.55],[0.762,0.00105,1.6],[0.765,0.0014,1.65],[0.768,0.0019,1.6],[0.771,0.0011,1.65],[0.774,0.0016,1.6],[0.777,0.0023,1.65],[0.78,0.0013,1.68],[0.783,0.0019,1.65],[0.786,0.0027,1.7],[0.789,0.0011,1.7],[0.792,0.0015,1.65],[0.795,0.0021,1.7],[0.798,0.0012,1.72],[0.802,0.0017,1.7],[0.806,0.0013,1.68],[0.81,0.0019,1.75],[0.815,0.0011,1.72],[0.82,0.0015,1.75],[0.825,0.0021,1.7],[0.83,0.0012,1.78],[0.835,0.0017,1.8],[0.84,0.0013,1.8],[0.845,0.0022,1.85],[0.85,0.0011,1.82],[0.855,0.0015,1.85],[0.86,0.0019,1.8],[0.865,0.0012,1.85],[0.87,0.0016,1.88],[0.845,0.0016,1.82],[0.858,0.0024,1.9],[0.848,0.0028,1.85],[0.838,0.0011,1.78],[0.87,0.0011,1.85],[0.862,0.0013,1.9],[0.876,0.0014,1.95],[0.7,0.0025,1.4],[0.73,0.0029,1.45],[0.76,0.0031,1.5],[0.775,0.0028,1.55],[0.69,0.0022,1.45],[0.668,0.0031,1.45],
 [0.664,0.0019,1.42],[0.669,0.0013,1.45],[0.674,0.0017,1.42],[0.679,0.0022,1.45],[0.683,0.0012,1.45],[0.687,0.0028,1.42],[0.691,0.0016,1.45],[0.696,0.0023,1.5],[0.701,0.0013,1.45],[0.705,0.0018,1.5],[0.71,0.0025,1.45],[0.714,0.0011,1.5],[0.719,0.0017,1.55],[0.724,0.0024,1.5],[0.728,0.0013,1.55],[0.733,0.0019,1.55],[0.737,0.0015,1.5],[0.742,0.0022,1.6],[0.746,0.0012,1.55],[0.751,0.0018,1.6],[0.755,0.0026,1.55],[0.76,0.0013,1.6],[0.764,0.002,1.62],[0.769,0.0015,1.65],[0.773,0.0022,1.6],[0.778,0.0011,1.65],[0.782,0.0016,1.7],[0.787,0.0022,1.65],[0.791,0.0013,1.7],[0.796,0.0018,1.72],[0.801,0.0011,1.75],[0.805,0.0022,1.7],[0.811,0.0014,1.75],[0.817,0.0018,1.78],[0.822,0.0012,1.8],[0.828,0.0016,1.78],[0.833,0.0023,1.8],[0.842,0.0019,1.85],[0.852,0.0014,1.85],[0.858,0.0011,1.9],[0.866,0.0018,1.88]
];

// ---- Bulge
const bulgeA_polys = [
 [0.15,[[0.12,0.28],[0.13,0.33],[0.17,0.335],[0.2,0.33],[0.205,0.27],[0.18,0.25],[0.14,0.255]]],
 [0.25,[[0.38,0.22],[0.5,0.22],[0.5,0.33],[0.35,0.34],[0.36,0.3]]],
 [0.40,[[0.535,0.22],[0.535,0.33],[0.7,0.33],[0.81,0.34],[0.81,0.23],[0.7,0.22]]],
 [0.50,[[0.55,0.24],[0.55,0.32],[0.62,0.32],[0.6,0.25]]],
 [0.70,[[0.18,0.23],[0.2,0.28],[0.22,0.33],[0.24,0.36],[0.27,0.34],[0.3,0.37],[0.32,0.37],[0.345,0.32],[0.38,0.26],[0.4,0.22],[0.3,0.21],[0.21,0.215]]],
 [0.88,[[0.2,0.23],[0.22,0.27],[0.25,0.31],[0.28,0.33],[0.3,0.3],[0.29,0.25],[0.25,0.225]]],
 [0.98,[[0.22,0.24],[0.24,0.27],[0.26,0.28],[0.27,0.26],[0.25,0.235]]],
 [0.20,[[0.31,0.76],[0.6,0.78],[0.75,0.8],[0.76,0.74],[0.5,0.72],[0.33,0.7]]],
 [0.25,[[0.33,0.62],[0.4,0.64],[0.5,0.62],[0.5,0.55],[0.42,0.54],[0.35,0.56]]],
 [0.35,[[0.24,0.53],[0.31,0.53],[0.35,0.6],[0.36,0.75],[0.32,0.76],[0.28,0.64]]],
 [0.72,[[0.255,0.535],[0.285,0.535],[0.33,0.7],[0.345,0.75],[0.33,0.755],[0.3,0.66]]],
 [0.35,[[0.26,0.38],[0.28,0.38],[0.3,0.52],[0.28,0.53]]],
 [0.48,[[0.72,0.77],[0.74,0.81],[0.78,0.83],[0.8,0.82],[0.79,0.78],[0.76,0.76]]],
 [0.33,[[0.52,0.42],[0.52,0.52],[0.55,0.56],[0.57,0.5],[0.56,0.43]]]
];
const bulgeA_dots = [
 [0.68,0.84],[0.7,0.87],[0.72,0.9],[0.69,0.93],[0.71,0.96],[0.73,0.99],[0.7,1.01],[0.72,1.04],[0.74,1.07],[0.71,1.1],[0.73,1.12],[0.75,1.15],[0.72,1.16],[0.74,1.13],[0.76,1.1],[0.75,1.03],[0.77,0.98],[0.76,0.94],[0.74,0.91],[0.75,0.86],[0.73,0.83],[0.78,1.13],[0.79,1.16],[0.7,1.25],[0.76,1.2],[0.67,0.98],[0.66,0.96],[0.62,0.99],[0.6,0.98],[0.69,1.06],
 [0.71,0.85],[0.73,0.88],[0.7,0.95],[0.72,0.97],[0.74,1.0],[0.71,1.03],[0.73,1.06],[0.75,1.08],[0.72,1.12],[0.74,1.16],
 [0.8,0.8],[0.81,0.84],[0.82,0.88],[0.815,0.92],[0.83,0.95],[0.825,0.99],[0.835,1.03],[0.84,1.06],[0.845,1.1],[0.85,1.13],[0.855,1.17],[0.86,1.2],[0.865,1.23],[0.87,1.26],[0.875,1.29],[0.88,1.31],[0.89,1.34],[0.9,1.36],[0.88,1.37],[0.85,1.36],[0.84,1.33],[0.83,1.3],[0.86,1.28],[0.83,0.91],[0.84,0.98],[0.82,1.03],[0.86,1.1],[0.87,1.16],[0.9,1.22],[0.92,1.28],[0.93,1.3],[0.94,1.37],[0.97,1.37],[1.02,1.31],[1.05,1.18],[1.07,1.1],[1.05,0.95],[0.98,0.99],[0.96,1.0],[1.0,1.07],
 [0.82,1.37],[0.8,1.35],[0.75,1.27],[0.56,0.98],[0.53,0.97],[0.52,0.87],[1.32,0.97],[1.08,1.18],[0.95,1.05],
 [0.82,0.78],[0.85,0.75],[0.88,0.79],[0.9,0.82],[0.92,0.77],[0.94,0.8],[0.96,0.74],[0.98,0.83],[1.0,0.79],[1.02,0.76],[1.04,0.82],[1.06,0.78],[1.08,0.8],[1.1,0.75],[1.12,0.81],[1.14,0.78],[1.16,0.83],[1.18,0.79],[1.2,0.76],[1.22,0.8],[1.24,0.77],[1.26,0.79],[1.28,0.76],[1.3,0.81],[1.32,0.78],[1.34,0.75],[1.36,0.8],[1.37,0.76],[0.93,0.84],[1.01,0.84],[1.09,0.83],[1.15,0.74],[1.21,0.73],[1.25,0.82],[1.33,0.8],[0.97,0.77],[1.05,0.73],[1.11,0.79],[1.17,0.77],[0.89,0.72],[0.99,0.71],[1.03,0.8],[0.95,0.78],
 [0.86,0.66],[0.9,0.62],[0.95,0.6],[1.0,0.57],[1.05,0.55],[1.08,0.52],[1.13,0.58],[1.18,0.56],[1.22,0.52],[1.26,0.58],[1.3,0.54],[1.33,0.6],[1.35,0.55],[1.34,0.67],[1.3,0.49],[1.27,0.47],[1.2,0.5],[1.15,0.46],[1.1,0.48],[1.03,0.5],[0.98,0.53],[0.93,0.56],[0.88,0.58],[1.06,0.63],[1.12,0.62],[1.0,0.64],[0.84,0.33],[0.87,0.31],[0.9,0.35],[0.93,0.38],[0.96,0.4],[1.0,0.42],[1.03,0.36],[1.05,0.4],[1.07,0.43],[0.97,0.3],[0.92,0.28],[0.88,0.26],[0.85,0.29],[1.01,0.33],
 [0.8,0.38],[0.805,0.42],[0.81,0.46],[0.81,0.5],[0.815,0.54],[0.82,0.58],[0.82,0.62],[0.825,0.66],[0.83,0.7],[0.82,0.73],[0.79,0.45],[0.8,0.55],[0.83,0.48],
 [0.35,0.5],[0.37,0.42],[0.39,0.55],[0.41,0.47],[0.43,0.4],[0.45,0.52],[0.47,0.44],[0.49,0.38],[0.51,0.46],[0.36,0.36],[0.4,0.36],[0.44,0.35],[0.48,0.36],[0.35,0.64],[0.38,0.68],[0.42,0.7],[0.46,0.67],[0.5,0.7],[0.54,0.72],[0.58,0.68],[0.62,0.72],[0.66,0.7],[0.7,0.73],[0.74,0.7],[0.78,0.72],[0.6,0.6],[0.64,0.64],[0.68,0.6],[0.72,0.64],[0.76,0.6],[0.58,0.5],[0.62,0.54],[0.66,0.5],[0.7,0.54],[0.74,0.5],[0.78,0.55],[0.6,0.42],[0.64,0.44],[0.68,0.4],[0.72,0.44],[0.76,0.4],[0.62,0.36],[0.66,0.34],[0.7,0.36],[0.74,0.34],[0.78,0.37],[0.57,0.38],[0.53,0.36],[0.55,0.6],[0.52,0.65],[0.57,0.63],[0.61,0.66],[0.65,0.57],[0.69,0.47],[0.73,0.57],[0.63,0.48],[0.67,0.45],[0.71,0.41],[0.59,0.56],[0.77,0.65],[0.75,0.45],[0.3,0.5],[0.32,0.43],[0.33,0.38],
 [0.37,0.48],[0.39,0.44],[0.41,0.4],[0.45,0.44],[0.47,0.5],[0.5,0.4],[0.54,0.46],[0.58,0.45],[0.61,0.5],[0.64,0.52],[0.67,0.58],[0.71,0.6],[0.75,0.66],[0.79,0.66],[0.63,0.68],[0.67,0.66],[0.71,0.7],[0.59,0.64],[0.55,0.68],[0.47,0.62],
 [0.37,0.5],[0.39,0.46],[0.41,0.54],[0.43,0.48],[0.45,0.42],[0.47,0.56],[0.49,0.5],[0.53,0.4],[0.55,0.38],[0.59,0.44],[0.61,0.4],[0.63,0.44],[0.65,0.42],[0.67,0.38],[0.69,0.42],[0.71,0.38],[0.73,0.42],[0.75,0.38],[0.77,0.42],[0.79,0.4],[0.61,0.58],[0.63,0.62],[0.65,0.66],[0.67,0.62],[0.69,0.66],[0.71,0.62],[0.73,0.66],[0.75,0.62],[0.77,0.68],[0.79,0.7],[0.6,0.7],[0.56,0.66],[0.58,0.72],[0.62,0.46],[0.66,0.48],[0.7,0.5],[0.74,0.54],[0.78,0.52],[0.76,0.48],[0.72,0.5],
 [0.6,0.25],[0.64,0.29],[0.68,0.26],[0.72,0.3],[0.74,0.25],[0.76,0.28],[0.78,0.31],[0.7,0.23],[0.66,0.32],[0.62,0.31],[0.75,0.32],[0.79,0.24],[0.71,0.27],[0.67,0.24],[0.73,0.28],[0.63,0.26],[0.8,0.28],[0.77,0.23],[0.69,0.3],[0.65,0.27],[0.42,0.3],[0.44,0.26],[0.47,0.31],[0.4,0.24],[0.46,0.23],[0.49,0.28]
];
const bulgeB_polys = [
 [0.35,[[0.78,0.73],[0.78,0.84],[1.0,0.85],[1.2,0.83],[1.39,0.83],[1.39,0.74],[1.2,0.74],[1.0,0.72],[0.85,0.7]]],
 [0.45,[[0.78,0.75],[0.78,0.8],[1.0,0.8],[1.2,0.79],[1.2,0.76],[1.0,0.75]]],
 [0.33,[[0.67,0.85],[0.69,1.0],[0.72,1.15],[0.74,1.22],[0.77,1.23],[0.79,1.2],[0.78,1.05],[0.77,0.92],[0.78,0.84],[0.72,0.83]]],
 [0.36,[[0.82,0.86],[0.83,1.0],[0.86,1.15],[0.9,1.3],[0.93,1.32],[0.92,1.2],[0.89,1.05],[0.87,0.92],[0.86,0.85]]],
 [0.60,[[0.83,0.86],[0.84,0.95],[0.86,1.0],[0.87,0.95],[0.86,0.87]]],
 [0.58,[[0.72,0.83],[0.74,0.95],[0.76,0.94],[0.77,0.85]]],
 [0.60,[[0.665,0.88],[0.68,0.92],[0.7,0.91],[0.69,0.87]]],
 [0.45,[[0.8,0.6],[0.82,0.57],[0.86,0.6],[0.87,0.74],[0.82,0.74]]],
 [0.65,[[0.605,0.79],[0.66,0.81],[0.72,0.82],[0.79,0.83],[0.8,0.78],[0.83,0.7],[0.82,0.58],[0.8,0.6],[0.7,0.69]]],
 [0.75,[[0.62,0.79],[0.65,0.8],[0.69,0.78],[0.66,0.75]]],
 [0.88,[[0.7,0.77],[0.72,0.8],[0.76,0.82],[0.79,0.8],[0.78,0.77],[0.74,0.76]]],
 [0.97,[[0.73,0.78],[0.75,0.8],[0.77,0.795],[0.76,0.775]]]
];
const bulgeB_dark = [
 [0.65,0.95],[0.66,0.98],[0.67,1.02],[0.68,1.06],[0.69,1.1],[0.7,1.14],[0.71,1.18],[0.72,1.22],[0.73,1.25],[0.74,1.28],[0.75,1.3],[0.76,1.26],[0.77,1.22],[0.78,1.18],[0.79,1.14],[0.8,1.1],[0.8,1.05],[0.79,1.0],[0.78,0.95],[0.68,0.94],[0.7,1.02],[0.72,1.08],[0.74,1.16],[0.76,1.12],[0.77,1.06],[0.7,0.96],[0.69,0.86],[0.67,0.85],[0.66,0.9],[0.8,1.35],[0.79,1.38],[0.82,1.37],[0.81,1.31],[0.75,1.35],[0.71,1.3],[0.69,1.21],[0.67,1.15],[0.64,1.05],[0.63,0.98],[0.61,1.0],[0.62,0.93],
 [0.84,0.9],[0.85,0.94],[0.86,1.0],[0.87,1.05],[0.88,1.1],[0.89,1.15],[0.9,1.2],[0.91,1.25],[0.92,1.3],[0.93,1.35],[0.94,1.38],[0.96,1.38],[0.95,1.33],[0.94,1.28],[0.93,1.22],[0.92,1.16],[0.91,1.1],[0.9,1.04],[0.89,0.98],[0.88,0.93],[0.87,1.2],[0.88,1.28],[0.9,1.33],[0.91,1.38],[0.97,1.35],[0.99,1.37],[1.0,1.31],[0.98,1.25],[0.85,1.1],[0.86,1.18],[0.83,1.2],[0.84,1.26],
 [0.82,0.78],[0.85,0.82],[0.88,0.77],[0.9,0.83],[0.92,0.79],[0.94,0.75],[0.96,0.84],[0.98,0.8],[1.0,0.77],[1.02,0.83],[1.04,0.79],[1.06,0.75],[1.08,0.82],[1.1,0.78],[1.12,0.84],[1.14,0.8],[1.16,0.76],[1.18,0.83],[1.2,0.79],[1.22,0.75],[1.24,0.81],[1.26,0.77],[1.28,0.83],[1.3,0.79],[1.32,0.76],[1.34,0.82],[1.36,0.78],[1.38,0.8],[0.87,0.86],[0.93,0.87],[0.99,0.85],[1.05,0.86],[1.11,0.85],[1.17,0.86],[1.23,0.85],[1.29,0.86],[1.35,0.85],[1.01,0.73],[1.07,0.72],[1.13,0.74],[1.19,0.73],[1.25,0.74],[1.31,0.73],[1.37,0.74],[0.89,0.9],[0.95,0.88],[1.03,0.88],[1.15,0.89],
 [0.84,0.7],[0.87,0.66],[0.9,0.63],[0.93,0.6],[0.96,0.57],[0.99,0.54],[1.01,0.5],[1.03,0.46],[1.04,0.42],[1.05,0.39],[1.06,0.37],[1.07,0.4],[1.09,0.44],[1.12,0.48],[1.15,0.52],[1.18,0.55],[1.21,0.58],[1.24,0.61],[1.27,0.63],[1.3,0.66],[1.33,0.68],[1.36,0.7],[1.35,0.6],[1.32,0.55],[1.29,0.52],[1.26,0.5],[1.23,0.47],[1.2,0.45],[1.17,0.43],[1.14,0.41],[1.11,0.39],[1.08,0.36],[1.0,0.6],[1.04,0.58],[1.08,0.55],[1.12,0.6],[1.16,0.64],[1.2,0.66],[1.25,0.68],[0.92,0.55],[0.96,0.52],[0.98,0.47],[1.02,0.44],[0.95,0.64],[0.97,0.67],[1.1,0.5],[1.14,0.56],[1.18,0.61],[1.22,0.53],[1.28,0.58],[1.34,0.52],[1.37,0.57],[1.0,0.4],[0.98,0.42],[1.03,0.52],
 [0.94,1.36],[1.0,1.34],[1.02,1.37],[1.05,1.3],[1.09,1.27],[1.07,1.2],[1.03,1.17],[1.1,1.13],[1.15,1.21],[1.18,1.2],[1.2,1.23],[1.05,1.05],[1.08,1.0],[1.12,1.02],[1.2,1.02],[1.17,1.03],[1.22,1.12],[1.35,1.0],[1.37,0.99],[1.34,0.96],[1.36,1.02],[1.18,1.38],[1.3,0.97]
];
const bulgeB_purple = [[0.86,0.78],[0.95,0.82],[1.05,0.8],[1.15,0.79],[1.25,0.8],[1.33,0.79],[1.0,0.62],[1.1,0.55],[1.2,0.6],[1.3,0.62],[1.05,0.66],[1.15,0.7],[1.25,0.65],[1.35,0.66],[1.08,0.46],[1.18,0.5],[0.99,0.58],[1.28,0.55],[0.79,1.34],[0.78,1.3],[0.77,1.25],[0.76,1.22],[0.84,0.97],[0.9,1.3],[0.93,1.26],[1.09,1.2],[1.07,1.16],[1.11,1.04],[0.88,1.0],[0.66,0.94],[0.68,0.92],[1.37,0.84],[1.36,0.8],[1.35,0.76]];
const bulgeHistRed = [100,80,60,50,40,35,28,22,20,16,14,15,8,9,6,5,4,3,4,3,0,1,2,0,1,0,0,0,0,2,0,0,0,0,0,0,0,0,0,0,0,0,0,0,0,0,0,0,0,0,0,0,0,0,0,0,0,0,0,0];
const bulgeHistDark = [0,0,0,0,0,0,0,0,0,0,0,0,0,0,0,0,0,0,0,0,0,0,0,0,0,0,0,0,0,0,0,2,0,3,0,0,0,5,3,4,2,5,14,12,25,40,55,58,85,110,60,14,0,6,45,45,28,18,6,3];
const bulgeEnvelope = [[0.36,0.00414],[0.369,0.0047],[0.381,0.0054],[0.396,0.0068],[0.409,0.0079],[0.426,0.0086],[0.44,0.0092],[0.457,0.0099],[0.475,0.0108],[0.49,0.0118],[0.506,0.0129],[0.52,0.0142],[0.532,0.0154],[0.554,0.0168],[0.57,0.0182],[0.59,0.02],[0.607,0.0225],[0.62,0.0242],[0.634,0.026],[0.66,0.0293],[0.678,0.034],[0.696,0.037],[0.71,0.0385],[0.731,0.0405],[0.75,0.043],[0.767,0.0455],[0.785,0.048],[0.795,0.0496],[0.798,0.0526],[0.802,0.0609],[0.815,0.063],[0.828,0.0645],[0.85,0.068],[0.872,0.0725],[0.89,0.077],[0.907,0.0815],[0.925,0.084],[0.943,0.0864],[0.965,0.0916],[0.7,0.04],[0.71,0.041],[0.72,0.04]];
const bulgeStems = [[0.36,0.00414,0.00122],[0.369,0.0047,0.002],[0.378,0.0053,0.00159],[0.389,0.006,0.00226],[0.398,0.007,0.00213],[0.407,0.0077,0.00296],[0.425,0.0086,0.00105],[0.446,0.0094,0.00148],[0.456,0.0098,0.00101],[0.475,0.0108,0.00115],[0.493,0.012,0.00101],[0.506,0.0129,0.0015],[0.508,0.0131,0.002],[0.51,0.0133,0.001],[0.515,0.0137,0.00117],[0.533,0.0154,0.00153],[0.542,0.016,0.0016],[0.554,0.0168,0.0013],[0.577,0.019,0.002],[0.583,0.0195,0.0017],[0.599,0.021,0.0017],[0.614,0.0235,0.0035],[0.465,0.0103,0.0013],[0.485,0.0114,0.0012],[0.525,0.0148,0.0012],[0.565,0.0176,0.0013],[0.59,0.02,0.0012],[0.605,0.0222,0.0012],[0.618,0.024,0.0012],[0.906,0.081,0.0012],[0.91,0.0825,0.0035],[0.928,0.0845,0.0025],[0.934,0.085,0.0014],[0.945,0.0866,0.0011],[0.96,0.09,0.001],[0.965,0.0916,0.0011],[1.086,0.13,0.00107]];
const bulgeLight = [[0.53,0.0152,0.0014],[0.554,0.0168,0.0014],[0.57,0.0182,0.0014],[0.59,0.02,0.0014],[0.607,0.0225,0.0014],[0.613,0.0232,0.0014]];
const bulgeGrey = [[0.612,0.0232,0.0012],[0.62,0.0242,0.0012],[0.634,0.026,0.0012],[0.641,0.027,0.0012]];
const bulgeCore = [[0.64,0.0268,0.0012],[0.66,0.0293,0.0012],[0.678,0.034,0.0012],[0.696,0.037,0.0012],[0.71,0.0385,0.0012],[0.731,0.0405,0.0012],[0.75,0.043,0.0012],[0.767,0.0455,0.0012],[0.785,0.048,0.0012],[0.797,0.0496,0.0012]];
const bulgeShade = [[0.799,0.0609,0.0012],[0.815,0.063,0.0012],[0.828,0.0645,0.0012],[0.85,0.068,0.0012],[0.872,0.0725,0.0013],[0.89,0.077,0.0014],[0.904,0.081,0.0015]];
const bulgeMassDots = [
 [0.36,0.00122,1.4],[0.369,0.002,1.45],[0.378,0.00159,1.45],[0.389,0.00226,1.45],[0.398,0.00213,1.5],[0.407,0.00296,1.45],[0.425,0.00105,1.45],[0.446,0.00148,1.7],[0.456,0.00101,1.75],[0.475,0.00133,1.65],[0.475,0.00115,1.55],[0.493,0.00101,1.45],[0.506,0.0015,1.45],[0.508,0.002,1.75],[0.51,0.001,1.7],[0.515,0.00117,1.45],[0.533,0.00153,1.75],[0.542,0.0016,1.7],[0.554,0.0028,1.75],[0.554,0.0013,1.65],[0.577,0.002,1.55],[0.583,0.0017,1.6],[0.599,0.0017,1.45],[0.614,0.0035,1.45],[0.599,0.00117,1.6],[0.614,0.00117,1.7],[0.665,0.0094,1.45],[0.706,0.0092,1.45],[0.74,0.0074,1.55],[0.731,0.0056,1.55],[0.687,0.005,1.45],[0.712,0.0044,1.55],[0.788,0.0316,1.6],[0.849,0.0056,1.7],[0.787,0.0048,1.6],[0.806,0.0046,1.6],[0.91,0.0035,2.1],[0.928,0.0025,2.15],[0.934,0.0018,2.2],[0.934,0.0014,2.25],[0.928,0.0012,2.1],[0.906,0.0012,2.05],[0.908,0.001,2.05],[0.932,0.001,2.05],[0.96,0.00107,2.3],[0.96,0.001,2.3],[0.945,0.0011,2.25],[1.086,0.0017,2.25],[1.086,0.00107,2.3],[0.879,0.0019,1.9],
 [0.625,0.0011,1.42],[0.63,0.0015,1.45],[0.635,0.002,1.42],[0.64,0.0012,1.5],[0.645,0.0017,1.42],[0.65,0.0024,1.45],[0.655,0.00105,1.42],[0.66,0.0014,1.45],[0.665,0.0019,1.42],[0.67,0.0028,1.45],[0.675,0.0011,1.5],[0.68,0.0016,1.42],[0.685,0.0022,1.45],[0.69,0.0013,1.42],[0.695,0.0018,1.5],[0.7,0.0026,1.45],[0.705,0.0011,1.5],[0.71,0.0015,1.55],[0.715,0.0021,1.5],[0.72,0.003,1.55],[0.725,0.0012,1.55],[0.73,0.0017,1.6],[0.735,0.0024,1.55],[0.74,0.0013,1.6],[0.745,0.0019,1.62],[0.75,0.0028,1.6],[0.755,0.0011,1.6],[0.76,0.0015,1.65],[0.765,0.0022,1.6],[0.77,0.0033,1.65],[0.775,0.0013,1.65],[0.78,0.0018,1.7],[0.785,0.0026,1.65],[0.79,0.0011,1.7],[0.795,0.0015,1.72],[0.8,0.0021,1.7],[0.805,0.0012,1.75],[0.81,0.0017,1.78],[0.815,0.0025,1.75],[0.82,0.0013,1.78],[0.825,0.0019,1.8],[0.83,0.0011,1.8],[0.835,0.0015,1.82],[0.84,0.0022,1.85],[0.845,0.0012,1.8],[0.85,0.0017,1.88],[0.855,0.0013,1.85],[0.86,0.002,1.9],[0.865,0.0011,1.85],[0.87,0.0015,1.9],[0.875,0.0012,1.95],[0.88,0.0018,1.9],[0.885,0.0011,2.0],[0.89,0.0014,1.95],[0.895,0.0012,2.05],[0.9,0.0016,2.0],[0.655,0.003,1.45],[0.675,0.0035,1.42],[0.695,0.0038,1.45],[0.715,0.0034,1.5],[0.735,0.0031,1.55],[0.755,0.0036,1.6],[0.775,0.0041,1.62],[0.79,0.0031,1.65],[0.81,0.0029,1.7],[0.83,0.0028,1.75],[0.85,0.0026,1.8],[0.87,0.0023,1.85],[0.89,0.0021,1.9],[0.72,0.0042,1.55],[0.76,0.0045,1.62],[0.745,0.0039,1.6],[0.765,0.0039,1.55],[0.8,0.0027,1.72],[0.82,0.0035,1.8],[0.84,0.0031,1.78],[0.86,0.0033,1.85],[0.875,0.0027,1.8],[0.895,0.0024,2.0],[0.88,0.0031,1.9],[0.87,0.0019,2.1],[0.885,0.0016,2.1],[0.86,0.0014,2.0],[0.64,0.0028,1.42],[0.665,0.0025,1.45],[0.705,0.0021,1.42],[0.73,0.0011,1.45],[0.75,0.0023,1.45],[0.77,0.0011,1.55],[0.79,0.0023,1.6],[0.81,0.0011,1.65],[0.83,0.0023,1.7],[0.85,0.0011,1.75],[0.87,0.0012,1.8],[0.89,0.0011,1.85],
 [0.628,0.0013,1.45],[0.633,0.0018,1.42],[0.638,0.0024,1.45],[0.643,0.0014,1.42],[0.648,0.002,1.45],[0.652,0.0013,1.42],[0.658,0.0017,1.45],[0.662,0.0023,1.45],[0.668,0.0012,1.42],[0.673,0.0019,1.45],[0.678,0.0025,1.5],[0.683,0.0013,1.45],[0.688,0.0018,1.42],[0.693,0.0024,1.5],[0.698,0.0014,1.45],[0.703,0.0017,1.55],[0.708,0.0027,1.5],[0.713,0.0012,1.55],[0.718,0.0018,1.55],[0.723,0.0025,1.6],[0.728,0.0014,1.6],[0.733,0.0021,1.55],[0.738,0.0011,1.6],[0.743,0.0016,1.65],[0.748,0.0024,1.62],[0.753,0.0014,1.6],[0.758,0.0019,1.68],[0.763,0.0029,1.65],[0.768,0.0013,1.7],[0.773,0.0018,1.68],[0.778,0.0024,1.72],[0.783,0.0012,1.7],[0.788,0.0019,1.75],[0.793,0.0027,1.72],[0.798,0.0013,1.75],[0.803,0.0016,1.78],[0.808,0.0023,1.8],[0.813,0.0014,1.8],[0.818,0.0019,1.82],[0.823,0.0011,1.85],[0.828,0.0026,1.8],[0.833,0.0017,1.85],[0.838,0.0012,1.88],[0.843,0.0018,1.9],[0.848,0.0024,1.85],[0.853,0.0015,1.9],[0.858,0.0011,1.95],[0.863,0.0017,1.95],[0.868,0.0025,1.9],[0.873,0.0014,2.0],[0.878,0.0021,1.95],[0.883,0.0013,2.05],[0.888,0.0018,2.0],[0.893,0.0015,2.1],[0.898,0.0011,2.1]
];

// ---------------- rendering ----------------
const rowTop = [0, 367, 735];
const titleTop = [4.3, 364.5, 733];
const freqDomain = [0.00081, 0.119];
const root = document.getElementById("root");
const baseStyle = {fontFamily: "DejaVu Sans", fontSize: "11.5px", color: "#262626", background: "none", overflow: "visible"};
const frameColor = "#6e6e6e";
const supers = {1: "10⁰", 10: "10¹", 100: "10²"};

function place(el, left, top) {
  el.style.position = "absolute";
  el.style.left = left + "px";
  el.style.top = top + "px";
  root.appendChild(el);
}
function label(html, x, y, cls) {
  const d = document.createElement("div");
  d.className = "lab " + cls;
  d.innerHTML = html;
  d.style.left = x + "px";
  d.style.top = y + "px";
  root.appendChild(d);
}
const mLabel = n => `<i>m</i><sub>${n}</sub>&#8201;(<i>M</i><sub>⊙</sub>)`;

function scatter(polys, groups, opt) {
  const rows = polys.flatMap((p, i) => p[1].map(([x, y]) => ({id: i, d: p[0], x, y})));
  return Plot.plot({
    width: opt.width, height: 345,
    marginLeft: opt.marginLeft, marginRight: 7, marginTop: 33.5, marginBottom: 27.5,
    x: {domain: opt.xDomain, ticks: opt.xTicks, tickFormat: ".1f", tickSize: 3.5, tickPadding: 3, label: null},
    y: {domain: opt.yDomain, ticks: opt.yTicks, tickFormat: ".1f", tickSize: 3.5, tickPadding: 3, label: null},
    color: {type: "linear", scheme: "inferno", domain: [0, 1]},
    style: baseStyle,
    marks: [
      Plot.line(rows, {x: "x", y: "y", z: "id", fill: "d", stroke: "d", strokeWidth: 1.2, fillOpacity: 0.86, strokeOpacity: 0.5, curve: "linear-closed", imageFilter: "blur(0.9px)"}),
      ...groups.map(g => Plot.dot(g.pts, {x: p => p[0], y: p => p[1], r: g.r, fill: () => g.d, stroke: "none"})),
      Plot.frame({stroke: frameColor})
    ]
  });
}

function histogram(red, dark) {
  const bins = red.map((c, i) => ({
    lo: Math.pow(10, histLogStart + i * histLogStep),
    hi: Math.pow(10, histLogStart + (i + 1) * histLogStep),
    red: c, dark: dark[i]
  }));
  return Plot.plot({
    width: 190, height: 345, marginLeft: 67, marginRight: 8, marginTop: 33.5, marginBottom: 27.5,
    x: {type: "log", domain: [0.95, 104]},
    y: {type: "log", domain: freqDomain},
    style: baseStyle,
    marks: [
      Plot.rectX(bins.filter(b => b.red > 0), {y1: "lo", y2: "hi", x1: 0.5, x2: "red", fill: "#ff3b3b", fillOpacity: 0.9, clip: true, inset: 0}),
      Plot.rectX(bins.filter(b => b.dark > 0), {y1: "lo", y2: "hi", x1: 0.5, x2: "dark", fill: "#000", fillOpacity: 0.75, clip: true, inset: 0}),
      Plot.axisY({ticks: freqTicks, tickFormat: d3.format(".3f"), tickSize: 3.5, tickPadding: 3, label: null}),
      Plot.axisY({ticks: freqMinor, tickFormat: () => "", tickSize: 2, label: null}),
      Plot.axisX({ticks: countTicks, tickFormat: d => supers[d], tickSize: 3.5, tickPadding: 3, label: null}),
      Plot.axisX({ticks: countMinor, tickFormat: () => "", tickSize: 2, label: null}),
      Plot.frame({stroke: frameColor})
    ]
  });
}

function massPanel(d) {
  const X = e => e[0], T = e => e[1], B = e => e[2];
  return Plot.plot({
    width: 330, height: 345, marginLeft: 12, marginRight: 8, marginTop: 33.5, marginBottom: 27.5,
    x: {domain: [0.342, 1.1], ticks: massTicks, tickFormat: ".1f", tickSize: 3.5, tickPadding: 3, label: null},
    y: {type: "log", domain: freqDomain, axis: null},
    color: {type: "linear", scheme: "spectral", domain: [1.4, 2.3]},
    style: baseStyle,
    marks: [
      Plot.areaY(d.light, {x: X, y1: B, y2: T, fill: "#dedede"}),
      Plot.ruleX(d.stems, {x: X, y1: B, y2: T, stroke: "#b0b0b0", strokeWidth: 1, clip: true}),
      Plot.areaY(d.grey, {x: X, y1: B, y2: T, fill: "#555"}),
      Plot.areaY(d.core, {x: X, y1: B, y2: T, fill: "#000"}),
      Plot.areaY(d.shade, {x: X, y1: B, y2: T, fill: d.shadeFill}),
      Plot.line(d.core, {x: X, y: T, stroke: "#000", strokeWidth: 2}),
      Plot.line(d.shade, {x: X, y: T, stroke: "#000", strokeWidth: 2}),
      Plot.dot(d.envelope, {x: X, y: T, r: 1.4, fill: "#000"}),
      Plot.dot(d.dots, {x: X, y: T, r: 3.7, fill: e => e[2], stroke: "none"}),
      Plot.frame({stroke: frameColor})
    ]
  });
}

function colorbar() {
  const step = 0.005;
  const steps = d3.range(1.4, 2.3 - 1e-9, step);
  return Plot.plot({
    width: 70, height: 345, marginLeft: 9, marginRight: 46, marginTop: 33.5, marginBottom: 27.5,
    x: {domain: [0, 1], axis: null},
    y: {domain: [1.4, 2.3], ticks: totalMassTicks, tickFormat: ".1f", axis: "right", tickSize: 3.5, tickPadding: 3, label: null},
    color: {type: "linear", scheme: "spectral", domain: [1.4, 2.3]},
    style: {...baseStyle, fontFamily: "Open Sans", fontSize: "13.5px"},
    marks: [
      Plot.rect(steps, {x1: 0, x2: 1, y1: v => v, y2: v => v + step, fill: v => v + step / 2, stroke: v => v + step / 2, strokeWidth: 0.6}),
      Plot.frame({stroke: frameColor})
    ]
  });
}

const populations = [
  {A: [thinA_polys, [{pts: thinA_dots, d: 0.07, r: 1.15}]],
   B: [thinB_polys, [{pts: thinB_dots, d: 0.3, r: 1.6}]],
   hist: [thinHistRed, thinHistDark],
   mass: {light: thinLight, stems: thinStems, grey: thinGrey, core: thinCore, shade: thinShade, shadeFill: "#1e1e1e", envelope: thinEnvelope, dots: thinMassDots}},
  {A: [thickA_polys, [{pts: thickA_dots, d: 0.07, r: 1.15}]],
   B: [thickB_polys, [{pts: thickB_dots, d: 0.3, r: 1.6}]],
   hist: [thickHistRed, thickHistDark],
   mass: {light: thickLight, stems: thickStems, grey: thickGrey, core: thickCore, shade: thickShade, shadeFill: "#6a6a6a", envelope: thickEnvelope, dots: thickMassDots}},
  {A: [bulgeA_polys, [{pts: bulgeA_dots, d: 0.07, r: 1.15}]],
   B: [bulgeB_polys, [{pts: bulgeB_dark, d: 0.05, r: 1.45}, {pts: bulgeB_purple, d: 0.3, r: 1.6}]],
   hist: [bulgeHistRed, bulgeHistDark],
   mass: {light: bulgeLight, stems: bulgeStems, grey: bulgeGrey, core: bulgeCore, shade: bulgeShade, shadeFill: "#262626", envelope: bulgeEnvelope, dots: bulgeMassDots}}
];

populations.forEach((p, i) => {
  const R = rowTop[i];
  place(scatter(p.A[0], p.A[1], {width: 340, marginLeft: 48, xDomain: [0.1, 1.4], yDomain: [0.1, 1.4], xTicks: scatterTicksA, yTicks: scatterTicksA}), 0, R);
  place(scatter(p.B[0], p.B[1], {width: 260, marginLeft: 44, xDomain: [0.6, 1.4], yDomain: [0.3, 1.4], xTicks: scatterTicksBx, yTicks: scatterTicksBy}), 360, R);
  place(histogram(p.hist[0], p.hist[1]), 630, R);
  place(massPanel(p.mass), 800, R);
  place(colorbar(), 1130, R);

  const t = document.createElement("div");
  t.className = "title";
  t.textContent = titles[i];
  t.style.left = "591px";
  t.style.top = titleTop[i] + "px";
  root.appendChild(t);

  label(mLabel(1), 190, R + 345, "mm");
  label(mLabel(2), 13, R + 176, "mm rot");
  label(mLabel(1), 508, R + 345, "mm");
  label(mLabel(2), 370, R + 176, "mm rot");
  label("counts", 755, R + 346, "os");
  label("Frequency (Hz)", 643, R + 176, "os rot");
  label("Minimum Mass (<i>M</i><sub>⊙</sub>)", 965, R + 346, "os");
  label("Total Mass (<i>M</i><sub>⊙</sub>)", 1187, R + 176, "os rot");
});
</script></body></html>
